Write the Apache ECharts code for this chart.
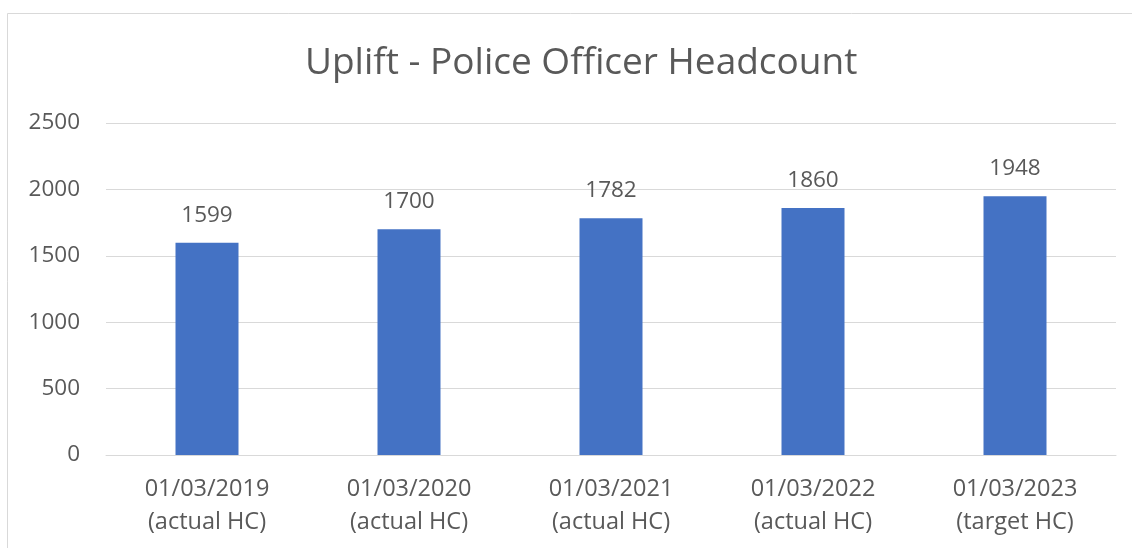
<!DOCTYPE html>
<html>
<head>
<meta charset="utf-8">
<script src="https://cdn.jsdelivr.net/npm/echarts@6/dist/echarts.min.js"></script>
<style>
  html, body { margin: 0; padding: 0; background: #fff; }
  #chart { width: 1132px; height: 548px; }
</style>
</head>
<body>
<div id="chart"></div>
<script>
// Police officer headcount by year
const categories = [
  '01/03/2019\n(actual HC)',
  '01/03/2020\n(actual HC)',
  '01/03/2021\n(actual HC)',
  '01/03/2022\n(actual HC)',
  '01/03/2023\n(target HC)'
];
const headcount = [1599, 1700, 1782, 1860, 1948];
const yTicks = [0, 500, 1000, 1500, 2000, 2500];

const font = '"Open Sans", "DejaVu Sans", sans-serif';
const textColor = '#595959';

const chart = echarts.init(document.getElementById('chart'));
chart.setOption({
  animation: false,
  backgroundColor: '#fff',
  title: {
    text: 'Uplift - Police Officer Headcount',
    left: 300,
    top: 40,
    textStyle: { fontFamily: font, fontSize: 37, fontWeight: 'normal', color: textColor }
  },
  graphic: [{
    type: 'rect',
    shape: { x: 7.5, y: 13.5, width: 1140, height: 560 },
    style: { fill: 'none', stroke: '#d9d9d9', lineWidth: 1 },
    silent: true
  }],
  grid: { left: 106, right: 16, top: 123, bottom: 93 },
  xAxis: {
    type: 'category',
    data: categories,
    axisTick: { show: false },
    axisLine: { show: true, lineStyle: { color: '#d9d9d9', width: 1 } },
    axisLabel: { fontFamily: font, fontSize: 23.5, color: textColor, margin: 18, lineHeight: 33 }
  },
  yAxis: {
    type: 'value',
    min: yTicks[0],
    max: yTicks[yTicks.length - 1],
    interval: 500,
    axisLine: { show: false },
    axisTick: { show: false },
    splitLine: { lineStyle: { color: '#d9d9d9', width: 1 } },
    axisLabel: {
      fontFamily: font, fontSize: 22.5, color: textColor, margin: 26,
      formatter: (v) => String(v)
    }
  },
  series: [{
    type: 'bar',
    data: headcount,
    barWidth: 63,
    itemStyle: { color: '#4472c4' },
    label: {
      show: true,
      position: 'top',
      distance: 16,
      fontFamily: font,
      fontSize: 22.5,
      color: textColor
    }
  }]
});
</script>
</body>
</html>
